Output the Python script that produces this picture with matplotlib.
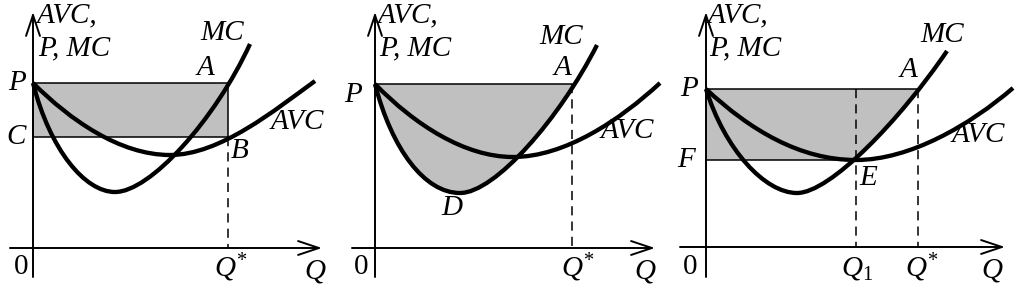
import matplotlib
matplotlib.use("Agg")
import matplotlib.pyplot as plt
from matplotlib.path import Path
from matplotlib.patches import PathPatch, Rectangle

plt.rcParams['mathtext.fontset'] = 'custom'
plt.rcParams['mathtext.it'] = 'Liberation Serif:italic'
plt.rcParams['mathtext.rm'] = 'Liberation Serif'

# all coordinates are image pixels (y grows downward)
# curves are cubic bezier control points: start, (c1, c2, end) per segment
mc1 = [(33, 83), (50, 150), (85, 192), (115, 192), (150, 192), (215, 120), (250, 44)]
avc1 = [(33, 83), (70, 120), (120, 155), (170, 155), (220, 155), (275, 110), (315, 81)]
mc2 = [(375, 84), (392, 150), (425, 193), (460, 193), (495, 193), (560, 118), (597, 45)]
avc2 = [(375, 84), (415, 125), (465, 157), (513, 157), (565, 157), (620, 120), (660, 83)]
mc3 = [(706, 89), (725, 150), (765, 193), (797, 193), (830, 193), (900, 120), (947, 51)]
avc3 = [(706, 89), (750, 130), (800, 160), (856, 160), (910, 160), (970, 125), (1013, 88)]

# axes: origin x, x-axis y, x-axis start, x-axis tip
axis_x = [33, 375, 706]
axis_y = [248, 248, 247]
axis_left = [10, 352, 680]
axis_tip = [322, 655, 1005]

# levels
p_level = [83, 84, 89]
c_level = 137
f_level = 160
qstar = [228, 572, 918]
q1 = 856

labels = [
    ("P", 17, 83), ("C", 16, 137), ("MC", 222, 33), ("A", 205, 68),
    ("AVC", 297, 122), ("B", 240, 151),
    ("P", 353, 95), ("MC", 561, 37), ("A", 562, 68), ("AVC", 627, 131), ("D", 452, 208),
    ("P", 689, 89), ("F", 686, 160), ("MC", 942, 35), ("A", 908, 70),
    ("AVC", 978, 135), ("E", 868, 178),
]
q_labels = [(r"$Q^{*}$", 231, 268), (r"$Q^{*}$", 578, 268), (r"$Q^{*}$", 922, 268),
            (r"$Q_{\mathrm{1}}$", 857, 268),
            (r"$Q$", 315, 271), (r"$Q$", 645, 271), (r"$Q$", 992, 270)]
zero_x = [21, 361, 690]
ylabel_x = [37, 378, 708]


def bez(pts):
    codes = [Path.MOVETO] + [Path.CURVE4] * (len(pts) - 1)
    return Path(pts, codes)


fig = plt.figure(figsize=(10.24, 2.86), dpi=100)
ax = fig.add_axes([0, 0, 1, 1])
ax.set_xlim(0, 1024)
ax.set_ylim(286, 0)
ax.axis('off')

gray = '#c0c0c0'
thin = 1.1
curve_lw = 3.1
dash = (0, (6, 4))


def above_clip(mc):
    pts = list(mc) + [(mc[-1][0], 0), (mc[0][0], 0), mc[0]]
    codes = [Path.MOVETO] + [Path.CURVE4] * (len(mc) - 1) + [Path.LINETO, Path.LINETO, Path.CLOSEPOLY]
    p = PathPatch(Path(pts, codes), transform=ax.transData, visible=False)
    ax.add_patch(p)
    return p


# panel 1 shading: full rectangle
ax.add_patch(Rectangle((axis_x[0], p_level[0]), qstar[0] - axis_x[0], c_level - p_level[0],
                       facecolor=gray, edgecolor='black', lw=thin, zorder=1))
ax.plot([qstar[0], qstar[0]], [c_level, axis_y[0]], color='black', lw=thin, ls=dash, zorder=2)

# panel 2 shading: between P and MC
clip2 = above_clip(mc2)
r2 = Rectangle((axis_x[1], p_level[1]), qstar[1] - axis_x[1], axis_y[1] - p_level[1],
               facecolor=gray, edgecolor='none', zorder=1)
ax.add_patch(r2)
r2.set_clip_path(clip2)
ax.plot([axis_x[1], qstar[1]], [p_level[1], p_level[1]], color='black', lw=thin, zorder=2)
ax.plot([qstar[1], qstar[1]], [p_level[1], axis_y[1]], color='black', lw=thin, ls=dash, zorder=2)

# panel 3 shading: rectangle to Q1 then up to MC
ax.add_patch(Rectangle((axis_x[2], p_level[2]), q1 - axis_x[2], f_level - p_level[2],
                       facecolor=gray, edgecolor='none', zorder=1))
clip3 = above_clip(mc3)
r3 = Rectangle((q1, p_level[2]), qstar[2] - q1, f_level - p_level[2],
               facecolor=gray, edgecolor='none', zorder=1)
ax.add_patch(r3)
r3.set_clip_path(clip3)
ax.plot([axis_x[2], qstar[2]], [p_level[2], p_level[2]], color='black', lw=thin, zorder=2)
ax.plot([axis_x[2], q1], [f_level, f_level], color='black', lw=thin, zorder=2)
for xq in (q1, qstar[2]):
    ax.plot([xq, xq], [p_level[2], axis_y[2]], color='black', lw=thin, ls=dash, zorder=2)

# curves
for c in (mc1, avc1, mc2, avc2, mc3, avc3):
    ax.add_patch(PathPatch(bez(c), fill=False, edgecolor='black', lw=curve_lw,
                           capstyle='butt', joinstyle='round', zorder=3))

# axes with arrows
arrow = dict(arrowstyle='->, head_length=0.75, head_width=0.25',
             lw=1.4, color='black', shrinkA=0, shrinkB=0, mutation_scale=20)
for i in range(3):
    ax.annotate('', xy=(axis_x[i], 12), xytext=(axis_x[i], 277), arrowprops=arrow, zorder=4)
    ax.annotate('', xy=(axis_tip[i], axis_y[i]), xytext=(axis_left[i], axis_y[i]),
                arrowprops=arrow, zorder=4)

font = dict(family='Liberation Serif', style='italic', fontsize=21)
for t, x, y in labels:
    ax.text(x, y, t, ha='center', va='center', **font)
for t, x, y in q_labels:
    ax.text(x, y, t, ha='center', va='center', fontsize=21)
for x in zero_x:
    ax.text(x, 267, "0", ha='center', va='center', family='Liberation Serif', fontsize=21)
for x in ylabel_x:
    ax.text(x, 15, "AVC,", ha='left', va='center', **font)
    ax.text(x + 1, 48, "P, MC", ha='left', va='center', **font)

fig.savefig("out.png", dpi=100)
